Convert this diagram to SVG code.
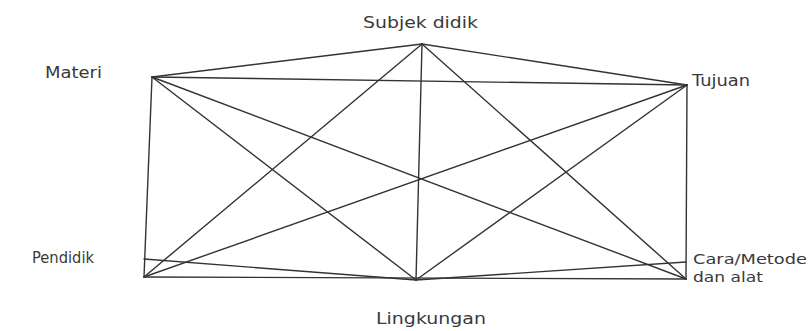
<svg xmlns="http://www.w3.org/2000/svg" width="811" height="331" viewBox="0 0 811 331">
<style>
.e{stroke:#333;stroke-width:1.4;fill:none;stroke-linecap:round}
.t{font-family:"DejaVu Sans","Liberation Sans",sans-serif;font-size:15px;fill:#3a3a3a}
.s{font-size:13.5px}
</style>
<rect width="811" height="331" fill="#fff"/>
<g id="connectors">
<line class="e" x1="152" y1="77" x2="422" y2="44"/>
<line class="e" x1="152" y1="77" x2="687" y2="85"/>
<line class="e" x1="152" y1="77" x2="144" y2="277"/>
<line class="e" x1="152" y1="77" x2="416" y2="280"/>
<line class="e" x1="152" y1="77" x2="686" y2="279"/>
<line class="e" x1="422" y1="44" x2="687" y2="85"/>
<line class="e" x1="422" y1="44" x2="144" y2="277"/>
<line class="e" x1="422" y1="44" x2="416" y2="280"/>
<line class="e" x1="422" y1="44" x2="686" y2="279"/>
<line class="e" x1="687" y1="85" x2="686" y2="279"/>
<line class="e" x1="687" y1="85" x2="416" y2="280"/>
<line class="e" x1="687" y1="85" x2="144" y2="277"/>
<line class="e" x1="144" y1="277" x2="686" y2="279"/>
<line class="e" x1="144" y1="259" x2="416" y2="280"/>
<line class="e" x1="686" y1="262" x2="416" y2="280"/>
</g>
<g id="subjek-didik"><text class="t" x="363" y="28" textLength="115" lengthAdjust="spacingAndGlyphs">Subjek didik</text></g>
<g id="materi"><text class="t" x="45" y="78" textLength="57" lengthAdjust="spacingAndGlyphs">Materi</text></g>
<g id="tujuan"><text class="t" x="692" y="86" textLength="58" lengthAdjust="spacingAndGlyphs">Tujuan</text></g>
<g id="pendidik"><text class="t" x="32" y="263" textLength="62" lengthAdjust="spacingAndGlyphs">Pendidik</text></g>
<g id="cara-metode"><text class="t s" x="693" y="264" textLength="114" lengthAdjust="spacingAndGlyphs">Cara/Metode</text><text class="t s" x="693" y="282" textLength="70" lengthAdjust="spacingAndGlyphs">dan alat</text></g>
<g id="lingkungan"><text class="t" x="376" y="324" textLength="110" lengthAdjust="spacingAndGlyphs">Lingkungan</text></g>
</svg>
